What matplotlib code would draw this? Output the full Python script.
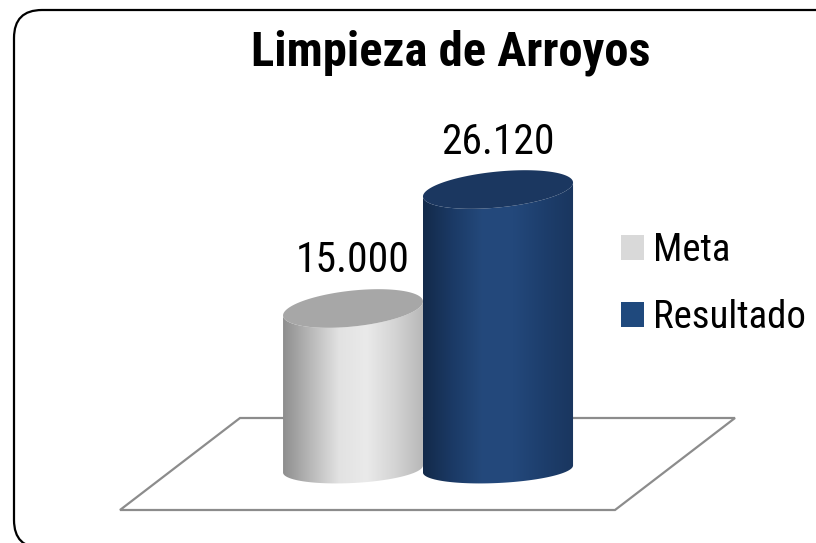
import numpy as np
import matplotlib
matplotlib.use("Agg")
import matplotlib.pyplot as plt
from matplotlib.patches import Polygon, Patch, FancyBboxPatch
from matplotlib.colors import LinearSegmentedColormap
from matplotlib.transforms import IdentityTransform

plt.rcParams['font.family'] = ['Roboto Condensed', 'DejaVu Sans']

title = "Limpieza de Arroyos"
series = ["Meta", "Resultado"]
values = [15000, 26120]

# look of the two cylinders
body_stops = [
    ["#8e8e8e", "#b9b9b9", "#e2e2e2", "#eaeaea", "#d4d4d4", "#b8b8b8"],
    ["#132a4a", "#1b3a66", "#24497c", "#23487b", "#1d3e6c", "#1a365f"],
]
top_colors = ["#a7a7a7", "#1b3760"]
legend_colors = ["#d9d9d9", "#1f497d"]
widths = [0.965, 1.035]

W, H = 816, 543
fig = plt.figure(figsize=(W / 100, H / 100), dpi=100)
ax = fig.add_axes([0, 0, 1, 1])

# pixel <-> data scales
px_x = 145.0          # pixels per category step
px_v = 0.0107         # pixels per unit of value
x0_px, y0_px = 353.0, 469.0
ax.set_xlim(-x0_px / px_x, (W - x0_px) / px_x)
ax.set_ylim(-(H - y0_px) / px_v, y0_px / px_v)
ax.axis("off")

def dy(p):
    return p / px_v

# floor (in axes fraction)
floor = [(120, 510), (615, 510), (735, 418), (240, 418)]
ax.add_patch(Polygon([(x / W, 1 - y / H) for x, y in floor], closed=True,
                     transform=ax.transAxes, facecolor="white",
                     edgecolor="#8c8c8c", lw=1.6, zorder=1))

def ellipse(cx, yc, a, b, s, t):
    return np.column_stack([cx + a * np.cos(t), yc + b * np.sin(t) + s * np.cos(t)])

for i, (name, v) in enumerate(zip(series, values)):
    cx = i
    a = widths[i] / 2
    front = np.linspace(np.pi, 2 * np.pi, 80)
    top_front = ellipse(cx, v, a, dy(18), dy(7), front)
    bot_front = ellipse(cx, 0, a, dy(14), dy(3.5), front)[::-1]
    body = Polygon(np.vstack([top_front, bot_front]), closed=True,
                   facecolor="none", edgecolor="none", zorder=2 + i)
    ax.add_patch(body)
    cmap = LinearSegmentedColormap.from_list("c%d" % i, body_stops[i])
    grad = np.linspace(0, 1, 256)[None, :]
    im = ax.imshow(grad, cmap=cmap, aspect="auto", interpolation="bilinear",
                   extent=[cx - a, cx + a, -dy(25), v + dy(25)], zorder=2 + i)
    im.set_clip_path(body)
    t = np.linspace(0, 2 * np.pi, 160)
    ax.add_patch(Polygon(ellipse(cx, v, a, dy(18), dy(7), t), closed=True,
                         facecolor=top_colors[i], edgecolor="none", zorder=2 + i))
    label = f"{v:,}".replace(",", ".")
    ax.text(cx, v + dy(36), label, ha="center", va="baseline",
            fontsize=30, color="black", zorder=5)

fig.text(451 / W, 1 - 65 / H, title, ha="center", va="baseline",
         fontsize=35, fontweight="bold")

handles = [Patch(facecolor=c, edgecolor="none") for c in legend_colors]
leg = ax.legend(handles, series, loc="upper left",
                bbox_to_anchor=(621 / W, 1 - 232 / H), frameon=False,
                fontsize=28, handlelength=0.6, handleheight=0.6,
                handletextpad=0.22, labelspacing=0.78, borderpad=0,
                borderaxespad=0)

# rounded frame around the chart (display pixels)
frame = FancyBboxPatch((14, -5), 840, 538, boxstyle="round,pad=0,rounding_size=28",
                       transform=IdentityTransform(), facecolor="none",
                       edgecolor="black", lw=1.6)
fig.patches.append(frame)

fig.savefig("out.png", dpi=100)
